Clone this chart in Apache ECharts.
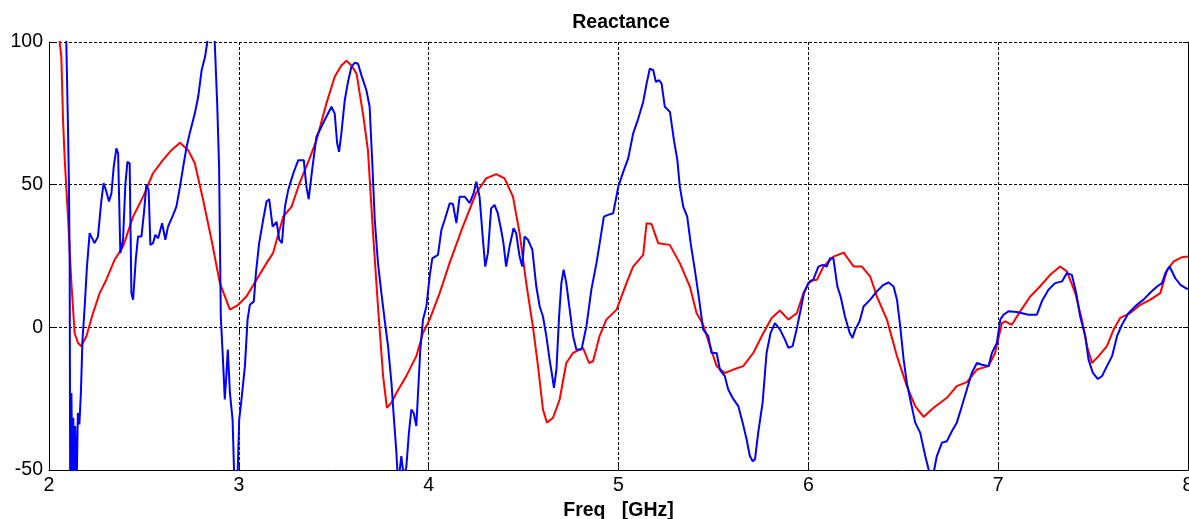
<!DOCTYPE html>
<html>
<head>
<meta charset="utf-8">
<script src="https://cdn.jsdelivr.net/npm/echarts@6/dist/echarts.min.js"></script>
<style>
html,body{margin:0;padding:0;background:#ffffff;}
#chart{width:1189px;height:519px;}
</style>
</head>
<body>
<div id="chart"></div>
<script>
// Frequency (GHz) / reactance values
var redX = [2.04,2.056,2.065,2.074,2.083,2.10,2.118,2.135,2.153,2.17,2.197,2.232,2.267,2.302,2.346,2.39,2.443,2.496,2.548,2.60,2.645,2.69,2.733,2.768,2.812,2.856,2.90,2.953,2.997,3.04,3.093,3.146,3.18,3.234,3.278,3.32,3.373,3.409,3.461,3.505,3.54,3.567,3.593,3.62,3.654,3.68,3.707,3.733,3.76,3.78,3.803,3.83,3.882,3.935,3.97,4.005,4.058,4.11,4.18,4.25,4.303,4.356,4.40,4.444,4.479,4.514,4.549,4.576,4.602,4.623,4.655,4.69,4.725,4.76,4.813,4.845,4.866,4.90,4.936,4.99,5.042,5.077,5.13,5.148,5.174,5.209,5.27,5.323,5.376,5.411,5.446,5.482,5.517,5.56,5.605,5.657,5.71,5.763,5.807,5.85,5.895,5.94,5.974,6.01,6.046,6.08,6.133,6.186,6.239,6.282,6.326,6.361,6.414,6.467,6.519,6.563,6.607,6.66,6.73,6.782,6.835,6.888,6.949,6.984,7.02,7.037,7.072,7.116,7.169,7.22,7.274,7.327,7.362,7.406,7.441,7.468,7.494,7.529,7.573,7.608,7.643,7.696,7.749,7.802,7.854,7.89,7.925,7.968,8.0];
var redY = [110,100,94.8,72.6,58.6,38.8,15.5,-2,-5.5,-6.6,-3.1,5,12,16.7,23.7,28.3,38.8,45.8,54,58.6,62.1,64.7,62.1,57.5,44.6,30.7,15.5,6.2,7.9,10.8,16.7,22.5,26,38.8,42.3,50.5,59.2,65.6,78.4,87.8,91.8,93.4,91.8,88.9,74.9,62.1,33,7.3,-17.1,-28.2,-26.5,-23,-17.1,-10.1,-2,2.7,12,22.5,35.3,47,52.2,53.7,52.2,45.8,33,15.5,0.3,-13.6,-28.8,-33.4,-31.7,-25.3,-12.5,-9,-7.2,-12.5,-11.9,-3.1,2.7,6.2,15.5,21.3,25.4,36.5,36.2,29.5,28.9,22.5,14.3,5,0.9,-6.6,-13.6,-16,-14.8,-13.6,-9,-2,3.3,5.9,2.7,5,12,16.3,16.7,21.3,24.8,26.2,21.3,21.3,17.8,10.8,2.7,-10.1,-20.6,-27.6,-31.4,-28.2,-24.7,-20.6,-19.2,-14.8,-13.6,-9,1.5,2.1,0.9,5.6,10.8,14.3,18.4,21.3,19.6,12,2.7,-6.6,-12.5,-10.1,-6.6,-0.8,3.3,5,7.9,9.7,12,20.1,23.1,24.6,24.8];

var blueX = [2.075,2.091,2.10,2.105,2.109,2.112,2.118,2.124,2.128,2.133,2.138,2.145,2.152,2.16,2.168,2.176,2.188,2.20,2.214,2.223,2.24,2.258,2.276,2.288,2.302,2.316,2.329,2.341,2.355,2.364,2.376,2.39,2.402,2.413,2.425,2.434,2.443,2.457,2.469,2.487,2.50,2.513,2.525,2.534,2.548,2.56,2.575,2.596,2.613,2.627,2.654,2.671,2.69,2.707,2.725,2.743,2.768,2.786,2.804,2.822,2.834,2.845,2.862,2.873,2.886,2.896,2.905,2.918,2.926,2.935,2.942,2.953,2.967,2.976,2.992,3.002,3.014,3.032,3.046,3.058,3.079,3.09,3.107,3.128,3.146,3.16,3.178,3.199,3.213,3.227,3.243,3.26,3.287,3.313,3.342,3.356,3.368,3.386,3.409,3.435,3.461,3.488,3.505,3.518,3.528,3.54,3.558,3.575,3.593,3.61,3.628,3.646,3.672,3.689,3.704,3.716,3.733,3.751,3.768,3.786,3.804,3.816,3.830,3.839,3.856,3.868,3.882,3.896,3.909,3.921,3.935,3.944,3.956,3.97,3.988,4.005,4.019,4.049,4.067,4.084,4.111,4.128,4.146,4.163,4.19,4.216,4.237,4.251,4.268,4.286,4.298,4.312,4.329,4.347,4.364,4.382,4.394,4.408,4.426,4.447,4.461,4.479,4.493,4.505,4.523,4.546,4.567,4.585,4.602,4.62,4.637,4.651,4.66,4.673,4.687,4.699,4.711,4.725,4.743,4.761,4.778,4.805,4.831,4.857,4.884,4.901,4.923,4.945,4.972,5.0,5.025,5.051,5.077,5.104,5.13,5.148,5.165,5.183,5.197,5.214,5.227,5.244,5.271,5.292,5.31,5.323,5.341,5.362,5.38,5.402,5.425,5.446,5.473,5.49,5.517,5.534,5.56,5.578,5.601,5.631,5.654,5.675,5.692,5.707,5.719,5.736,5.759,5.78,5.801,5.824,5.851,5.877,5.895,5.917,5.938,5.956,5.977,6.0,6.026,6.053,6.076,6.097,6.114,6.132,6.153,6.17,6.193,6.218,6.233,6.247,6.27,6.291,6.326,6.361,6.396,6.423,6.449,6.467,6.484,6.502,6.519,6.537,6.563,6.589,6.616,6.642,6.66,6.677,6.704,6.73,6.756,6.782,6.809,6.835,6.861,6.888,6.914,6.949,6.967,6.993,7.011,7.028,7.054,7.098,7.16,7.204,7.23,7.265,7.3,7.336,7.362,7.388,7.411,7.432,7.459,7.476,7.499,7.524,7.547,7.573,7.6,7.626,7.652,7.687,7.731,7.766,7.802,7.837,7.863,7.881,7.903,7.933,7.96,7.986,8.0];
var blueY = [115,100,70.3,50.5,21.3,-70,-23,-60,-31.7,-60,-34.6,-58,-30,-34,-23,-5,7.3,21.3,33,33.6,29.5,31.8,44.6,50.5,47.6,44.1,47,56.3,62.7,61,26,30.7,49.8,58,57.5,12,9.7,23.7,31.8,31.8,40,49.9,48.1,28.9,29.5,32.4,31.2,36.5,30.7,35.3,39.4,42.3,49.3,56.3,63.3,68.5,74.9,80.8,90.1,94.8,100,108,108,100,78.4,56.3,3.8,-13.6,-25.3,-16,-7.8,-23,-32.3,-53,-55,-32.3,-25.3,-13.6,2.7,7.9,9.1,19,29.5,37.6,44.1,44.9,35.3,37,30.7,29.5,42.3,48.1,54,58.6,58.6,49.3,44.9,55.1,66.8,70.3,73.8,77.3,74.9,64.5,61.5,67.9,79.6,86,91.3,92.7,92.4,88.3,83.1,77.3,56.3,37.6,22.5,12,2.7,-6.6,-19.5,-31.1,-43.9,-55,-45.1,-52,-49.2,-36.9,-28.8,-30,-34.6,-23,-7.8,2.7,7.3,17.8,24.2,25.4,34.1,37.6,43.5,43.2,36.5,45.8,45.8,43.5,47,51,45.8,30.7,21.3,26,41.7,42.9,40,34.1,29.5,21.3,28.3,34.7,33,24.8,21.3,31.8,30.7,27.2,14.3,7.3,3.8,-3.1,-11.3,-17.1,-21.2,-14.8,3.8,15.5,20.2,15.5,6.2,-3.1,-7.8,-7.8,0.3,13.2,22.5,29.5,38.8,39.4,40,49.6,54.5,59.2,67.9,73.2,79,85.4,90.7,90.1,86,86.6,85.4,77.3,75.5,65.6,58.6,49.3,42.3,38.8,29.5,20.2,9.7,-0.8,-3.1,-9,-9,-14.8,-17.1,-21.8,-24.7,-27.6,-33.4,-39.3,-45.1,-46.9,-46.3,-36.9,-26.5,-9,-2,1.5,-0.8,-4.3,-7.2,-6.6,-0.8,5,12,15.5,16.7,21.3,21.9,21.3,24.2,24.2,14.3,10.8,3.8,-2,-3.7,-0.8,2.1,7.3,9.7,12.6,14.9,15.7,14.3,9.7,0.3,-11.3,-19.5,-25.3,-33.4,-36.9,-45.1,-52,-51,-45.1,-40.4,-39.9,-36.4,-33.4,-27.6,-21.8,-16,-12.5,-13.1,-13.6,-9,-5.5,2.7,4.4,5.6,5.4,4.4,4.4,9.1,13.2,15.5,16.1,19,18.4,12,3.8,-3.1,-11.3,-16,-18.1,-17.1,-13.6,-10.1,-3.1,0.9,5,7.9,9.7,12.2,14.3,15.5,19,21.3,17.2,14.9,13.8,13.4];

var xTicks = [2,3,4,5,6,7,8];
var yTicks = [-50,0,50,100];

function pairs(xs, ys){ var out=[]; for(var i=0;i<xs.length;i++){ out.push([xs[i], ys[i]]); } return out; }

var chart = echarts.init(document.getElementById('chart'), null, {renderer:'canvas'});
var font = 'Liberation Sans, Arial, sans-serif';
var dash = [3,2];
chart.setOption({
  animation:false,
  backgroundColor:'#ffffff',
  title:{text:'Reactance', left:616, top:8, textAlign:'center',
    textStyle:{fontFamily:font, fontSize:19.5, fontWeight:'bold', color:'#000'}},
  grid:{left:49, right:1, top:42, bottom:49, show:false, containLabel:false, outerBoundsMode:'none'},
  xAxis:[{
    type:'value', min:xTicks[0], max:xTicks[xTicks.length-1], interval:1,
    name:'Freq   [GHz]', nameLocation:'middle', nameGap:26,
    nameTextStyle:{fontFamily:font, fontSize:19.5, fontWeight:'bold', color:'#000', verticalAlign:'top'},
    axisLine:{show:true, onZero:false, lineStyle:{color:'#000', width:1}},
    axisTick:{show:true, inside:true, length:5, lineStyle:{color:'#000'}},
    axisLabel:{fontFamily:font, fontSize:19.5, color:'#000', margin:6},
    splitLine:{show:true, lineStyle:{color:'#000', type:dash, width:1}}
  },{
    type:'value', position:'top', min:2, max:8, interval:1,
    axisLine:{show:false}, axisTick:{show:true, inside:true, length:5, lineStyle:{color:'#000'}},
    axisLabel:{show:false}, splitLine:{show:false}
  }],
  yAxis:[{
    type:'value', min:yTicks[0], max:yTicks[yTicks.length-1], interval:50,
    axisLine:{show:true, onZero:false, lineStyle:{color:'#000', width:1}},
    axisTick:{show:true, inside:true, length:5, lineStyle:{color:'#000'}},
    axisLabel:{fontFamily:font, fontSize:19.5, color:'#000', margin:6},
    splitLine:{show:true, lineStyle:{color:'#000', type:dash, width:1}}
  },{
    type:'value', position:'right', min:-50, max:100, interval:50,
    axisLine:{show:true, onZero:false, lineStyle:{color:'#000', width:1}},
    axisTick:{show:true, inside:true, length:5, lineStyle:{color:'#000'}},
    axisLabel:{show:false}, splitLine:{show:false}
  }],
  series:[{
    type:'line', name:'red', data:pairs(redX, redY), showSymbol:false, symbol:'none',
    clip:true, lineStyle:{color:'#ff0000', width:2}, z:2
  },{
    type:'line', name:'blue', data:pairs(blueX, blueY), showSymbol:false, symbol:'none',
    clip:true, lineStyle:{color:'#0000ff', width:2}, z:3
  }]
});
</script>
</body>
</html>
